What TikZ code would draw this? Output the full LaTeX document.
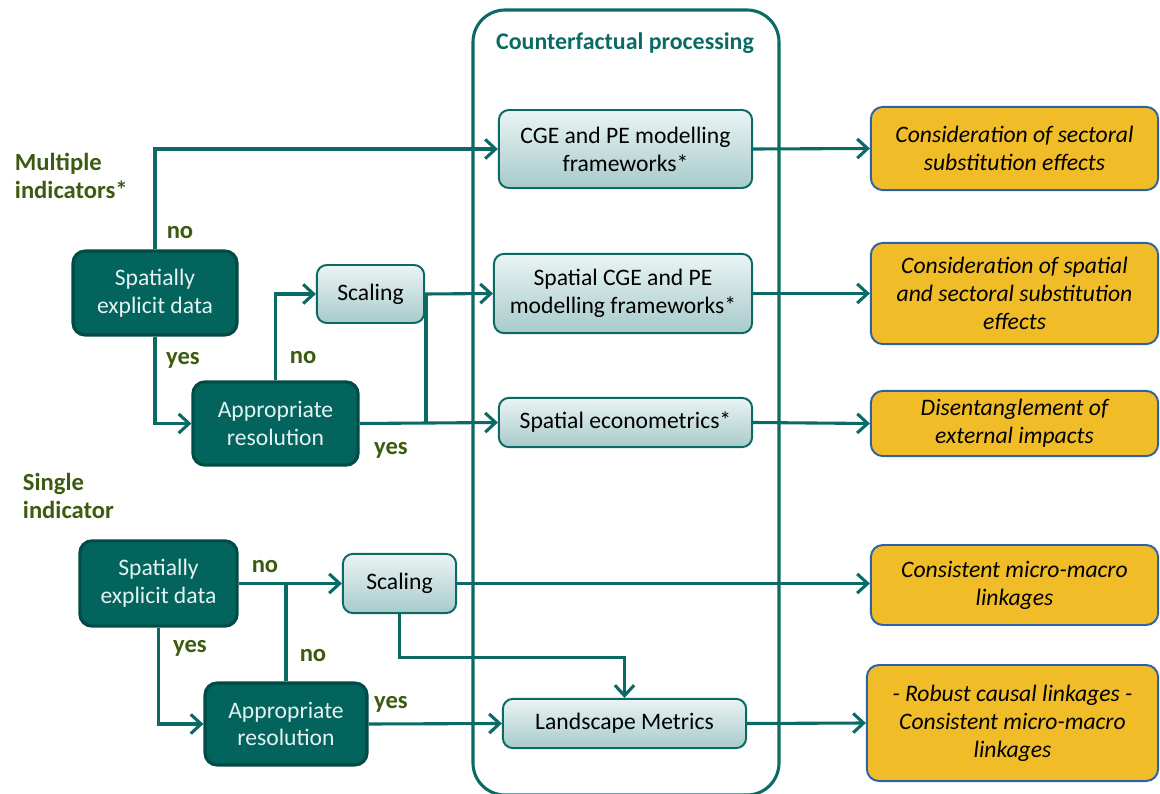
\documentclass[tikz,border=0pt]{standalone}
\usepackage{fontspec}
\setmainfont{Carlito}
\usetikzlibrary{arrows.meta}
\definecolor{tealdark}{HTML}{03635D}
\definecolor{tealline}{HTML}{0B6B64}
\definecolor{tealedge}{HTML}{004B46}
\definecolor{lighttop}{HTML}{EAF4F4}
\definecolor{lightbot}{HTML}{A8CACA}
\definecolor{gold}{HTML}{F0BC28}
\definecolor{goldedge}{HTML}{2A62AE}
\definecolor{olive}{HTML}{3D5B10}
\newcommand{\boxfont}{\fontsize{16.8}{19.8}\selectfont}
\tikzset{
darkbox/.style={draw=tealedge, line width=2.2pt, fill=tealdark, text=white!90!teal,
  rounded corners=0.3cm, align=center, inner sep=0pt, font=\boxfont},
lightbox/.style={draw=tealline, line width=1.4pt, top color=lighttop, bottom color=lightbot,
  rounded corners=0.25cm, align=center, inner sep=0pt, font=\boxfont},
outbox/.style={draw=goldedge, line width=1.4pt, fill=gold, rounded corners=0.3cm,
  align=center, inner sep=0pt, font={\boxfont\itshape}},
conn/.style={draw=tealline, line width=2.2pt, -{Straight Barb[length=2.6mm,width=4.8mm]}},
link/.style={draw=tealline, line width=2.2pt},
answer/.style={text=olive, font={\fontsize{17.5}{19.4}\selectfont\bfseries}}
}
\begin{document}
\begin{tikzpicture}[x=0.025cm, y=-0.025cm]
  \useasboundingbox (0,0) rectangle (1160,794);
  % counterfactual block
  \draw[tealline, line width=2.2pt, rounded corners=0.8cm] (473,10) rectangle (779,795);
  \node[text=tealline, font={\fontsize{17}{20}\selectfont\bfseries}] (title) at (625,43) {Counterfactual processing};
  \node[lightbox, minimum width=6.33cm, minimum height=1.95cm] (cge) at (625.5,149) {CGE and PE modelling\\frameworks*};
  \node[lightbox, minimum width=6.45cm, minimum height=1.98cm] (scge) at (623,293.5) {Spatial CGE and PE\\modelling frameworks*};
  \node[lightbox, minimum width=6.33cm, minimum height=1.23cm] (secon) at (625.5,422.5) {Spatial econometrics*};
  \node[lightbox, minimum width=6.08cm, minimum height=1.23cm] (lmet) at (624.5,723.5) {Landscape Metrics};
  % inputs
  \node[answer, align=left, anchor=west] (multi) at (10,176) {Multiple\\indicators*};
  \node[answer, align=left, anchor=west] (single) at (18,496) {Single\\indicator};
  \node[darkbox, minimum width=4.1cm, minimum height=2.1cm] (sed1) at (155,293) {Spatially\\explicit data};
  \node[darkbox, minimum width=4.13cm, minimum height=2.08cm] (res1) at (275.5,423.5) {Appropriate\\resolution};
  \node[lightbox, minimum width=2.68cm, minimum height=1.45cm] (scal1) at (370.5,294) {Scaling};
  \node[darkbox, minimum width=3.93cm, minimum height=2.13cm] (sed2) at (158.5,583.5) {Spatially\\explicit data};
  \node[darkbox, minimum width=4.05cm, minimum height=2.05cm] (res2) at (286,724) {Appropriate\\resolution};
  \node[lightbox, minimum width=2.83cm, minimum height=1.48cm] (scal2) at (399.5,583.5) {Scaling};
  % outcomes
  \node[outbox, minimum width=7.18cm, minimum height=2.08cm] (out1) at (1014.5,148.5) {Consideration of sectoral\\substitution effects};
  \node[outbox, minimum width=7.18cm, minimum height=2.53cm] (out2) at (1014.5,293.5) {Consideration of spatial\\and sectoral substitution\\effects};
  \node[outbox, minimum width=7.18cm, minimum height=1.63cm] (out3) at (1014.5,423.5) {Disentanglement of\\external impacts};
  \node[outbox, minimum width=7.18cm, minimum height=2.0cm] (out4) at (1014.5,585) {Consistent micro-macro\\linkages};
  \node[outbox, minimum width=7.28cm, minimum height=2.9cm] (out5) at (1012.5,723) {- Robust causal linkages -\\Consistent micro-macro\\linkages};
  % yes / no
  \node[answer] (n1) at (180,233) {no};
  \node[answer] (y1) at (183,360) {yes};
  \node[answer] (n2) at (303,358) {no};
  \node[answer] (y2) at (391,450) {yes};
  \node[answer] (n3) at (265,567) {no};
  \node[answer] (y3) at (190,648) {yes};
  \node[answer] (n4) at (313,656) {no};
  \node[answer] (y4) at (391,704) {yes};
  % connectors
  \coordinate (j1) at (426,294);
  \draw[conn] (sed1.north) |- (cge.west);
  \draw[conn] (sed1.south) |- (res1.west);
  \draw[conn] (res1.north) |- (scal1.west);
  \draw[conn] (scal1.east) -- (scge.west);
  \draw[conn] (res1.east) -- (secon.west);
  \draw[link] (j1) -- (j1 |- res1.east);
  \draw[conn] (cge.east) -- (out1.west);
  \draw[conn] (scge.east) -- (out2.west);
  \draw[conn] (secon.east) -- (out3.west);
  \draw[conn] (sed2.east) -- (scal2.west);
  \draw[conn] (sed2.south) |- (res2.west);
  \draw[link] (res2.north) -- (res2.north |- scal2.west);
  \draw[conn] (res2.east) -- (lmet.west);
  \draw[conn] (scal2.south) -- ++(0,43) -| (lmet.north);
  \draw[conn] (scal2.east) -- (out4.west |- scal2.east);
  \draw[conn] (lmet.east) -- (out5.west);
\end{tikzpicture}
\end{document}
